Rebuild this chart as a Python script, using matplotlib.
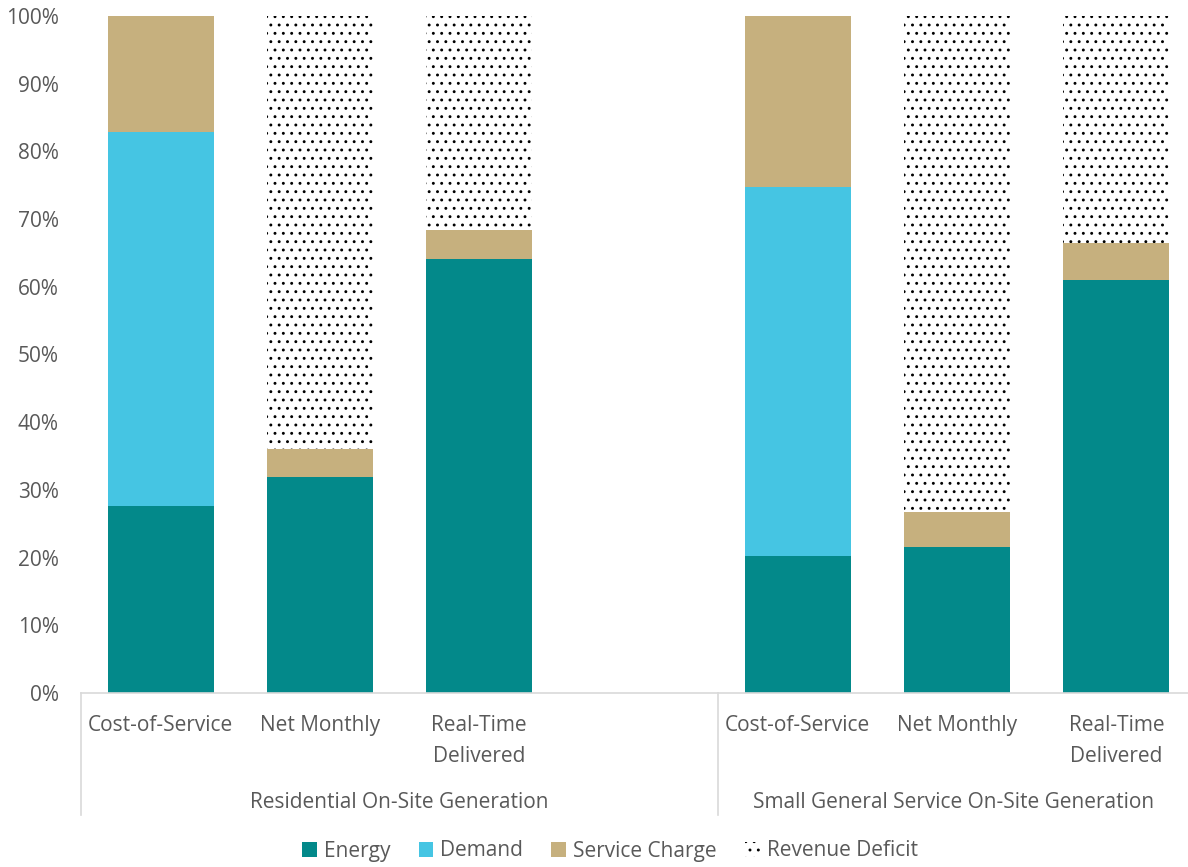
import matplotlib
matplotlib.use("Agg")
import matplotlib.pyplot as plt
import numpy as np
from matplotlib.patches import Patch
from matplotlib.lines import Line2D

plt.rcParams['font.family'] = ['Open Sans', 'DejaVu Sans']
plt.rcParams['hatch.linewidth'] = 0.9

categories = ["Cost-of-Service", "Net Monthly", "Real-Time\nDelivered", "",
              "Cost-of-Service", "Net Monthly", "Real-Time\nDelivered"]
groups = ["Residential On-Site Generation", "Small General Service On-Site Generation"]
group_bounds = [(-0.5, 3.5), (3.5, 6.5)]

energy = [27.6, 31.9, 64.1, 0, 20.2, 21.5, 61.0]
demand = [55.3, 0, 0, 0, 54.5, 0, 0]
service = [17.1, 4.1, 4.3, 0, 25.3, 5.3, 5.4]
deficit = [0, 64.0, 31.6, 0, 0, 73.2, 33.6]

c_energy = "#03898A"
c_demand = "#45C5E3"
c_service = "#C6B07E"
txt = "#595959"
fs = 15

fig = plt.figure(figsize=(11.88, 8.67), dpi=100)
ax = fig.add_axes([81/1188, 1-693/867, 1115/1188, (693-16)/867])

x = np.arange(len(categories))
w = 0.665
b = np.zeros(len(x))
ax.bar(x, energy, w, bottom=b, color=c_energy, label="Energy", linewidth=0)
b += energy
ax.bar(x, demand, w, bottom=b, color=c_demand, label="Demand", linewidth=0)
b += demand
ax.bar(x, service, w, bottom=b, color=c_service, label="Service Charge", linewidth=0)
b += service
ax.bar(x, deficit, w, bottom=b, facecolor="white", edgecolor="black", hatch="..",
       linewidth=0, label="Revenue Deficit")

ax.set_xlim(-0.5, 6.5)
ax.set_ylim(0, 100)
ax.set_yticks(np.arange(0, 101, 10))
ax.set_yticklabels([f"{v}%" for v in range(0, 101, 10)], fontsize=fs, color=txt)
ax.tick_params(axis='y', length=0, pad=16)
ax.set_xticks([])
for s in ['top', 'right', 'left']:
    ax.spines[s].set_visible(False)
ax.spines['bottom'].set_color("#D9D9D9")
ax.spines['bottom'].set_linewidth(1.2)

for i, c in enumerate(categories):
    if c:
        ax.text(i, -3.3, c, ha='center', va='top', fontsize=fs, color=txt,
                linespacing=1.58)

trans = ax.get_xaxis_transform()
for g, (lo, hi) in zip(groups, group_bounds):
    hi_vis = min(hi, 6.45)
    ax.text((lo + hi_vis) / 2, -0.146, g, ha='center', va='top', fontsize=fs,
            color=txt, transform=trans)

for xs in [-0.5, 3.5]:
    ax.add_line(Line2D([xs, xs], [0, -0.18], transform=trans, color="#D9D9D9",
                       linewidth=1.2, clip_on=False))

handles = [Patch(facecolor=c_energy, label="Energy"),
           Patch(facecolor=c_demand, label="Demand"),
           Patch(facecolor=c_service, label="Service Charge"),
           Patch(facecolor="white", edgecolor="black", hatch="..", linewidth=0,
                 label="Revenue Deficit")]
leg = fig.legend(handles=handles, loc='center', bbox_to_anchor=(610/1188, 1-851/867),
                 ncol=4, frameon=False, fontsize=fs, handlelength=0.7,
                 handleheight=0.7, handletextpad=0.35, columnspacing=1.35)
for t in leg.get_texts():
    t.set_color(txt)

fig.savefig("out.png", dpi=100)
